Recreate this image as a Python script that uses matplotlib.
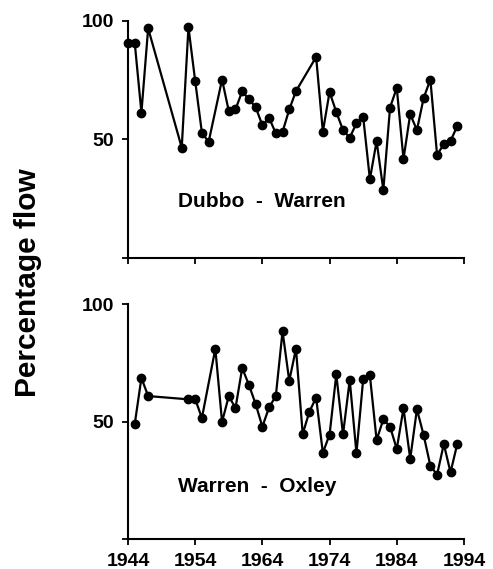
import matplotlib
matplotlib.use('Agg')
import matplotlib.pyplot as plt

plt.rcParams['font.family'] = ['Liberation Sans', 'DejaVu Sans']
plt.rcParams['font.weight'] = 'bold'

# Dubbo - Warren
years_dw = [1944, 1945, 1946, 1947, 1952, 1953, 1954, 1955, 1956, 1958, 1959, 1960,
            1961, 1962, 1963, 1964, 1965, 1966, 1967, 1968, 1969, 1972, 1973, 1974,
            1975, 1976, 1977, 1978, 1979, 1980, 1981, 1982, 1983, 1984, 1985, 1986,
            1987, 1988, 1989, 1990, 1991, 1992, 1993]
flow_dw = [90.8, 90.8, 61.3, 96.8, 46.5, 97.3, 74.6, 52.8, 48.9, 75.2, 61.9, 62.6,
           70.3, 66.8, 63.6, 55.9, 59.1, 52.5, 53.1, 62.6, 70.3, 84.7, 53.2, 70.0,
           61.5, 53.9, 50.7, 56.8, 59.5, 33.2, 49.2, 28.7, 63.4, 71.7, 41.7, 60.6,
           53.9, 67.4, 75.2, 43.4, 48.0, 49.3, 55.6]

# Warren - Oxley
years_wo = [1945, 1946, 1947, 1953, 1954, 1955, 1957, 1958, 1959, 1960, 1961, 1962,
            1963, 1964, 1965, 1966, 1967, 1968, 1969, 1970, 1971, 1972, 1973, 1974,
            1975, 1976, 1977, 1978, 1979, 1980, 1981, 1982, 1983, 1984, 1985, 1986,
            1987, 1988, 1989, 1990, 1991, 1992, 1993]
flow_wo = [48.9, 68.6, 60.9, 59.5, 59.6, 51.6, 81.0, 49.9, 60.9, 55.8, 72.8, 65.6,
           57.5, 47.9, 56.1, 60.9, 88.4, 67.4, 81.0, 44.8, 54.3, 60.2, 36.8, 44.5,
           70.1, 44.6, 67.7, 36.6, 68.0, 69.7, 42.2, 51.0, 47.9, 38.4, 55.7, 34.2,
           55.3, 44.3, 31.3, 27.5, 40.5, 28.5, 40.5]

xticks = [1944, 1954, 1964, 1974, 1984, 1994]
yticks = [0, 50, 100]
ylabels = ['', '50', '100']

fig = plt.figure(figsize=(4.93, 5.69), dpi=100)
ax1 = fig.add_axes([0.2596, 0.5466, 0.6815, 0.417])
ax2 = fig.add_axes([0.2596, 0.052, 0.6815, 0.4137])

for ax, x, y, name, ty in [(ax1, years_dw, flow_dw, 'Dubbo  -  Warren', 23.6),
                           (ax2, years_wo, flow_wo, 'Warren  -  Oxley', 22.4)]:
    ax.plot(x, y, color='black', lw=1.6, marker='o', ms=6, clip_on=False)
    ax.set_xlim(1944, 1994)
    ax.set_ylim(0, 100)
    ax.spines['top'].set_visible(False)
    ax.spines['right'].set_visible(False)
    ax.spines['left'].set_linewidth(1.5)
    ax.spines['bottom'].set_linewidth(1.5)
    ax.set_yticks(yticks)
    ax.set_yticklabels(ylabels)
    ax.set_xticks(xticks)
    ax.tick_params(direction='out', length=4, width=1.3, labelsize=14, pad=6)
    ax.text(1951.4, ty, name, fontsize=15, fontweight='bold', va='center')

ax1.set_xticklabels([])
ax2.set_xticklabels([str(t) for t in xticks])

fig.text(0.056, 0.503, 'Percentage flow', rotation=90, fontsize=21.5,
         fontweight='bold', ha='center', va='center')

fig.savefig('out.png', dpi=100)
